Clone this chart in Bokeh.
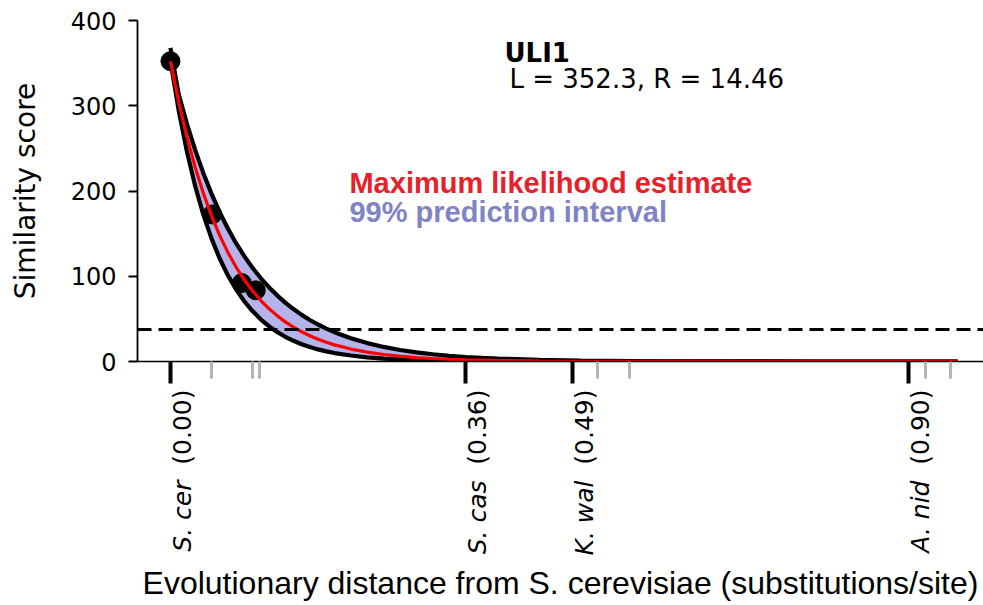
import math
from bokeh.plotting import figure
from bokeh.models import (Range1d, FixedTicker, Span, Label, LinearAxis,
                          CustomJSTickFormatter)
from bokeh.embed import file_html
from bokeh.resources import INLINE

# ---------------- data ----------------
curve_x = [0.00, 0.01, 0.02, 0.03, 0.04, 0.05, 0.06, 0.07, 0.08, 0.09, 0.10,
           0.11, 0.12, 0.13, 0.14, 0.15, 0.16, 0.17, 0.18, 0.19, 0.20,
           0.22, 0.24, 0.26, 0.28, 0.30, 0.32, 0.34, 0.36, 0.38, 0.40,
           0.45, 0.50, 0.60, 0.70, 0.80, 0.90, 0.96]
mle_score = [352.3, 304.9, 263.8, 228.3, 197.6, 171.0, 148.0, 128.0, 110.8, 95.9, 83.0,
             71.8, 62.1, 53.8, 46.5, 40.3, 34.9, 30.2, 26.1, 22.6, 19.5,
             14.6, 11.0, 8.2, 6.2, 4.6, 3.5, 2.6, 1.9, 1.5, 1.1,
             0.5, 0.3, 0.1, 0.0, 0.0, 0.0, 0.0]
upper_score = [368.0, 313.6, 279.1, 248.5, 221.2, 196.9, 175.2, 156.0, 138.8, 123.6, 110.0,
               97.9, 87.2, 77.6, 69.1, 61.5, 54.7, 48.7, 43.4, 38.6, 34.4,
               27.2, 21.6, 17.1, 13.5, 10.7, 8.5, 6.7, 5.3, 4.2, 3.4,
               1.9, 1.1, 0.3, 0.1, 0.0, 0.0, 0.0]
lower_score = [352.3, 294.7, 246.6, 206.3, 172.6, 144.4, 120.8, 101.1, 84.6, 70.7, 59.2,
               49.5, 41.4, 34.7, 29.0, 24.3, 20.3, 17.0, 14.2, 11.9, 9.9,
               7.0, 4.9, 3.4, 2.4, 1.7, 1.2, 0.8, 0.6, 0.4, 0.3,
               0.1, 0.1, 0.0, 0.0, 0.0, 0.0, 0.0]

point_dist = [0.000, 0.051, 0.087, 0.104]
point_score = [352.3, 172.5, 92.0, 83.5]

threshold = 37.5

species_ticks = [0.00, 0.36, 0.49, 0.90]
species_names = ["S. cer", "S. cas", "K. wal", "A. nid"]
species_dist = ["(0.00)", "(0.36)", "(0.49)", "(0.90)"]
other_ticks = [0.050, 0.100, 0.109, 0.521, 0.560, 0.921, 0.951]

y_ticks = [0, 100, 200, 300, 400]

gene_name = "ULI1"
param_text = "L = 352.3,  R = 14.46"
mle_text = "Maximum likelihood estimate"
pi_text = "99% prediction interval"
x_title = "Evolutionary distance from S. cerevisiae (substitutions/site)"
y_title = "Similarity score"

# ---------------- figure ----------------
PX_PER_X = 820.0
PX_PER_Y = 341.0 / 400.0
X0, X1 = -0.0402, 0.9915
LABEL_SHIFT = 12 / PX_PER_X   # tick labels sit 12 px right of their tick

p = figure(width=983, height=605,
           x_range=Range1d(X0, X1), y_range=Range1d(0, 400),
           output_backend="svg", toolbar_location=None,
           min_border_left=137, min_border_right=0,
           min_border_top=20, min_border_bottom=244)
p.extra_x_ranges = {"lab": Range1d(X0 - LABEL_SHIFT, X1 - LABEL_SHIFT)}
p.outline_line_color = None
p.xgrid.visible = False
p.ygrid.visible = False
p.background_fill_color = "white"
p.border_fill_color = "white"

# x axis: ticks only
xa = p.xaxis[0]
xa.ticker = FixedTicker(ticks=species_ticks, minor_ticks=other_ticks)
xa.axis_line_width = 1.6
xa.axis_line_color = "black"
xa.major_tick_in = 0
xa.major_tick_out = 22
xa.major_tick_line_width = 4
xa.major_tick_line_color = "black"
xa.minor_tick_in = 0
xa.minor_tick_out = 17
xa.minor_tick_line_width = 3
xa.minor_tick_line_color = "#b5b5ad"
xa.major_label_text_color = None
xa.major_label_text_font_size = "1px"
xa.major_label_standoff = 0

lookup_code = """
let best = 0, bd = 1e9;
for (let i = 0; i < pos.length; i++) {
  const d = Math.abs(pos[i] - tick);
  if (d < bd) { bd = d; best = i; }
}
return names[best];
"""

def label_axis(names, style, standoff):
    ax = LinearAxis(x_range_name="lab",
                    ticker=FixedTicker(ticks=species_ticks),
                    formatter=CustomJSTickFormatter(
                        args=dict(pos=species_ticks, names=names), code=lookup_code))
    ax.axis_line_color = None
    ax.major_tick_line_color = None
    ax.minor_tick_line_color = None
    ax.major_tick_out = 0
    ax.major_tick_in = 0
    ax.minor_tick_out = 0
    ax.minor_tick_in = 0
    ax.major_label_orientation = math.pi / 2
    ax.major_label_standoff = standoff
    ax.major_label_text_font = "DejaVu Sans"
    ax.major_label_text_font_size = "25px"
    ax.major_label_text_font_style = style
    ax.major_label_text_color = "black"
    return ax

dist_axis = label_axis(species_dist, "normal", 6)
name_axis = label_axis(species_names, "italic", 13)
name_axis.axis_label = x_title
name_axis.axis_label_text_font = "Liberation Sans"
name_axis.axis_label_text_font_size = "32px"
name_axis.axis_label_text_font_style = "normal"
name_axis.axis_label_text_color = "black"
name_axis.axis_label_standoff = 6
p.add_layout(dist_axis, "below")
p.add_layout(name_axis, "below")

# y axis
ya = p.yaxis[0]
ya.ticker = FixedTicker(ticks=y_ticks)
ya.axis_line_width = 1.8
ya.major_tick_in = 0
ya.major_tick_out = 9
ya.major_tick_line_width = 1.8
ya.minor_tick_line_color = None
ya.major_label_text_font = "DejaVu Sans"
ya.major_label_text_font_size = "24px"
ya.major_label_text_color = "black"
ya.major_label_standoff = 12
ya.axis_label = y_title
ya.axis_label_text_font = "DejaVu Sans"
ya.axis_label_text_font_size = "28px"
ya.axis_label_text_font_style = "normal"
ya.axis_label_text_color = "black"
ya.axis_label_standoff = 26

# band, outlines, points, MLE line
p.varea(x=curve_x, y1=lower_score, y2=upper_score, fill_color="#b4b4ea", fill_alpha=1.0)
p.line(curve_x, upper_score, line_color="black", line_width=4.2)
p.line(curve_x, lower_score, line_color="black", line_width=4.2)
p.scatter(point_dist, point_score, size=19, fill_color="black", line_color="black")
p.line(curve_x, mle_score, line_color="#ff0000", line_width=3.2)

p.add_layout(Span(location=threshold, dimension="width", line_color="black",
                  line_width=3, line_dash="14 7"))

def dx(px):
    return (px - 170) / PX_PER_X

def dy(py):
    return (361 - py) / PX_PER_Y

# annotations
p.add_layout(Label(x=dx(504), y=dy(52), text=gene_name, text_align="left",
                   text_baseline="alphabetic", text_font="DejaVu Sans",
                   text_font_style="bold", text_font_size="26px", text_color="black"))
p.add_layout(Label(x=dx(509), y=dy(78), text=param_text, text_align="left",
                   text_baseline="alphabetic", text_font="DejaVu Sans",
                   text_font_size="26px", text_color="black"))
p.add_layout(Label(x=dx(349), y=dy(182), text=mle_text, text_align="left",
                   text_baseline="alphabetic", text_font="Liberation Sans",
                   text_font_style="bold", text_font_size="29px", text_color="#e8202a"))
p.add_layout(Label(x=dx(349), y=dy(211), text=pi_text, text_align="left",
                   text_baseline="alphabetic", text_font="Liberation Sans",
                   text_font_style="bold", text_font_size="29px", text_color="#8083c5"))

open("out.html", "w").write(file_html(p, INLINE))
